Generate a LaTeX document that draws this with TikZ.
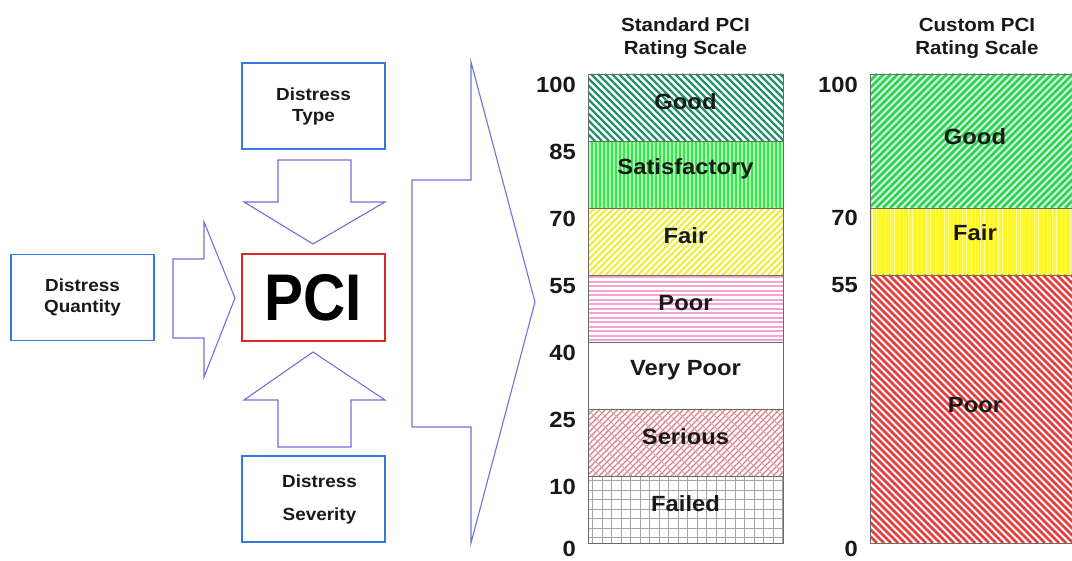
\documentclass[tikz,border=0pt]{standalone}
\usepackage{fontspec}
\setmainfont{Liberation Sans}[FakeStretch=1.08]
\usepackage{graphicx}

\definecolor{arrowblue}{RGB}{112,112,218}
\definecolor{boxblue}{RGB}{52,122,222}
\definecolor{pcired}{RGB}{222,40,40}
\definecolor{barline}{RGB}{105,105,105}
\definecolor{goodteal}{RGB}{35,145,110}
\definecolor{satgreen}{RGB}{60,225,85}
\definecolor{satlight}{RGB}{170,255,170}
\definecolor{fairyellow}{RGB}{238,238,70}
\definecolor{poorpink}{RGB}{242,165,208}
\definecolor{serred}{RGB}{215,125,135}
\definecolor{failgray}{RGB}{165,165,165}
\definecolor{custgreen}{RGB}{45,210,85}
\definecolor{custlight}{RGB}{215,255,220}
\definecolor{custyellow}{RGB}{255,248,40}
\definecolor{custpale}{RGB}{255,255,170}
\definecolor{custred}{RGB}{230,60,60}
\definecolor{inktext}{RGB}{25,25,25}

% stripes clipped to a band: x1, y1, x2, y2, gap, line style
\newcommand{\stripesdown}[6]{%
  \begin{scope}
    \clip (#1,#2) rectangle (#3,#4);
    \pgfmathsetmacro{\hh}{#4-#2}
    \pgfmathtruncatemacro{\nn}{(#3-#1+\hh)/#5+1}
    \foreach \k in {0,...,\nn}
      \draw[#6] ({#1-\hh+\k*#5},#2) -- ++(\hh,\hh);
  \end{scope}}
\newcommand{\stripesup}[6]{%
  \begin{scope}
    \clip (#1,#2) rectangle (#3,#4);
    \pgfmathsetmacro{\hh}{#4-#2}
    \pgfmathtruncatemacro{\nn}{(#3-#1+\hh)/#5+1}
    \foreach \k in {0,...,\nn}
      \draw[#6] ({#1-\hh+\k*#5},#4) -- ++(\hh,-\hh);
  \end{scope}}
\newcommand{\stripesh}[6]{%
  \begin{scope}
    \clip (#1,#2) rectangle (#3,#4);
    \pgfmathtruncatemacro{\nn}{(#4-#2)/#5}
    \foreach \k in {0,...,\nn}
      \draw[#6] (#1,{#2+#5/2+\k*#5}) -- (#3,{#2+#5/2+\k*#5});
  \end{scope}}
\newcommand{\stripesv}[6]{%
  \begin{scope}
    \clip (#1,#2) rectangle (#3,#4);
    \pgfmathtruncatemacro{\nn}{(#3-#1)/#5}
    \foreach \k in {0,...,\nn}
      \draw[#6] ({#1+#5/2+\k*#5},#2) -- ({#1+#5/2+\k*#5},#4);
  \end{scope}}

\begin{document}
\begin{tikzpicture}[x=1pt,y=-1pt,
    inbox/.style={draw=boxblue,line width=1.6pt,minimum width=143pt,minimum height=86pt,
      align=center,font=\fontsize{17.5}{21}\selectfont\bfseries,text=inktext},
    blockarrow/.style={draw=arrowblue,line width=1.1pt,line join=miter},
    bar/.style={draw=barline,line width=0.8pt},
    barlabel/.style={font=\fontsize{22}{22}\selectfont\bfseries,text=inktext},
    num/.style={font=\fontsize{22}{22}\selectfont\bfseries,text=inktext,inner sep=0pt,anchor=north east},
    title/.style={font=\fontsize{19}{23}\selectfont\bfseries,text=inktext,align=center}]
  \useasboundingbox (0,0) rectangle (1072,561);
  \clip (0,0) rectangle (1072,561);

  % Input boxes and PCI
  \node[inbox] (type) at (313.5,106) {Distress\\Type};
  \node[inbox] (qty) at (82.5,297.5) {Distress\\Quantity};
  \node[inbox,text width=136pt] (sev) at (313.5,499) {\hspace*{12pt}Distress\\[12pt]\hspace*{12pt}Severity};
  \node[draw=pcired,line width=1.6pt,minimum width=143pt,minimum height=87pt,
    font=\fontsize{66}{66}\selectfont\bfseries,text=black] (pci) at (313.5,297.5) {\scalebox{0.82}[1]{PCI}};

  % Block arrows into PCI
  \draw[blockarrow] (278,160) -- (351,160) -- (351,202) -- (385,202) -- (313,244) -- (244,202) -- (278,202) -- cycle;
  \draw[blockarrow] (313,352) -- (385,400) -- (351,400) -- (351,447) -- (278,447) -- (278,400) -- (244,400) -- cycle;
  \draw[blockarrow] (173,259) -- (204,259) -- (204,222) -- (235,298) -- (204,377) -- (204,338) -- (173,338) -- cycle;
  % Big arrow to the scales
  \draw[blockarrow] (412,180) -- (471,180) -- (471,62) -- (535,302) -- (471,543) -- (471,427) -- (412,427) -- cycle;

  % Standard scale, band fills
  \stripesdown{588}{74}{783}{141}{7}{goodteal,line width=2.2pt}
  \fill[satgreen] (588,141) rectangle (783,208);
  \stripesv{588}{141}{783}{208}{4}{satlight,line width=1.3pt}
  \stripesup{588}{208}{783}{275}{6.5}{fairyellow,line width=2.4pt}
  \stripesh{588}{275}{783}{342}{4.5}{poorpink,line width=2.2pt}
  \stripesup{588}{409}{783}{476}{6}{serred,line width=1.1pt}
  \stripesdown{588}{409}{783}{476}{11}{serred!75,line width=1pt}
  \stripesh{588}{476}{783}{543}{9.5}{failgray,line width=0.6pt}
  \stripesv{588}{476}{783}{543}{9.5}{failgray,line width=0.6pt}

  \node[title] (stdtitle) at (685.5,38.5) {Standard PCI\\Rating Scale};
  \foreach \lab [count=\i from 0] in {Good,Satisfactory,Fair,Poor,Very Poor,Serious,Failed} {
    \draw[bar] (588,{74+67*\i}) rectangle (783,{141+67*\i});
    \node[barlabel] (std\i) at (685.5,{102+67*\i}) {\lab};
  }
  \foreach \v [count=\i from 0] in {100,85,70,55,40,25,10}
    \node[num] (stdn\i) at (576,{77+67*\i}) {\v};
  \node[num] (stdn7) at (576,541) {0};

  % Custom scale
  \fill[custlight] (870,74) rectangle (1085,208);
  \stripesup{870}{74}{1085}{208}{7}{custgreen,line width=2.5pt}
  \fill[custyellow] (870,208) rectangle (1085,275);
  \stripesv{870}{208}{1085}{275}{4.5}{custpale,line width=1.3pt}
  \stripesdown{870}{275}{1085}{543}{7}{custred,line width=2.5pt}
  \draw[bar] (870,74) rectangle (1085,208);
  \draw[bar] (870,208) rectangle (1085,275);
  \draw[bar] (870,275) rectangle (1085,543);

  \node[title] (custtitle) at (977,38.5) {Custom PCI\\Rating Scale};
  \node[barlabel] (cust0) at (975,137) {Good};
  \node[barlabel] (cust1) at (975,233) {Fair};
  \node[barlabel] (cust2) at (975,405) {Poor};
  \node[num] (custn0) at (858,77) {100};
  \node[num] (custn1) at (858,210) {70};
  \node[num] (custn2) at (858,277) {55};
  \node[num] (custn3) at (858,541) {0};
\end{tikzpicture}
\end{document}
